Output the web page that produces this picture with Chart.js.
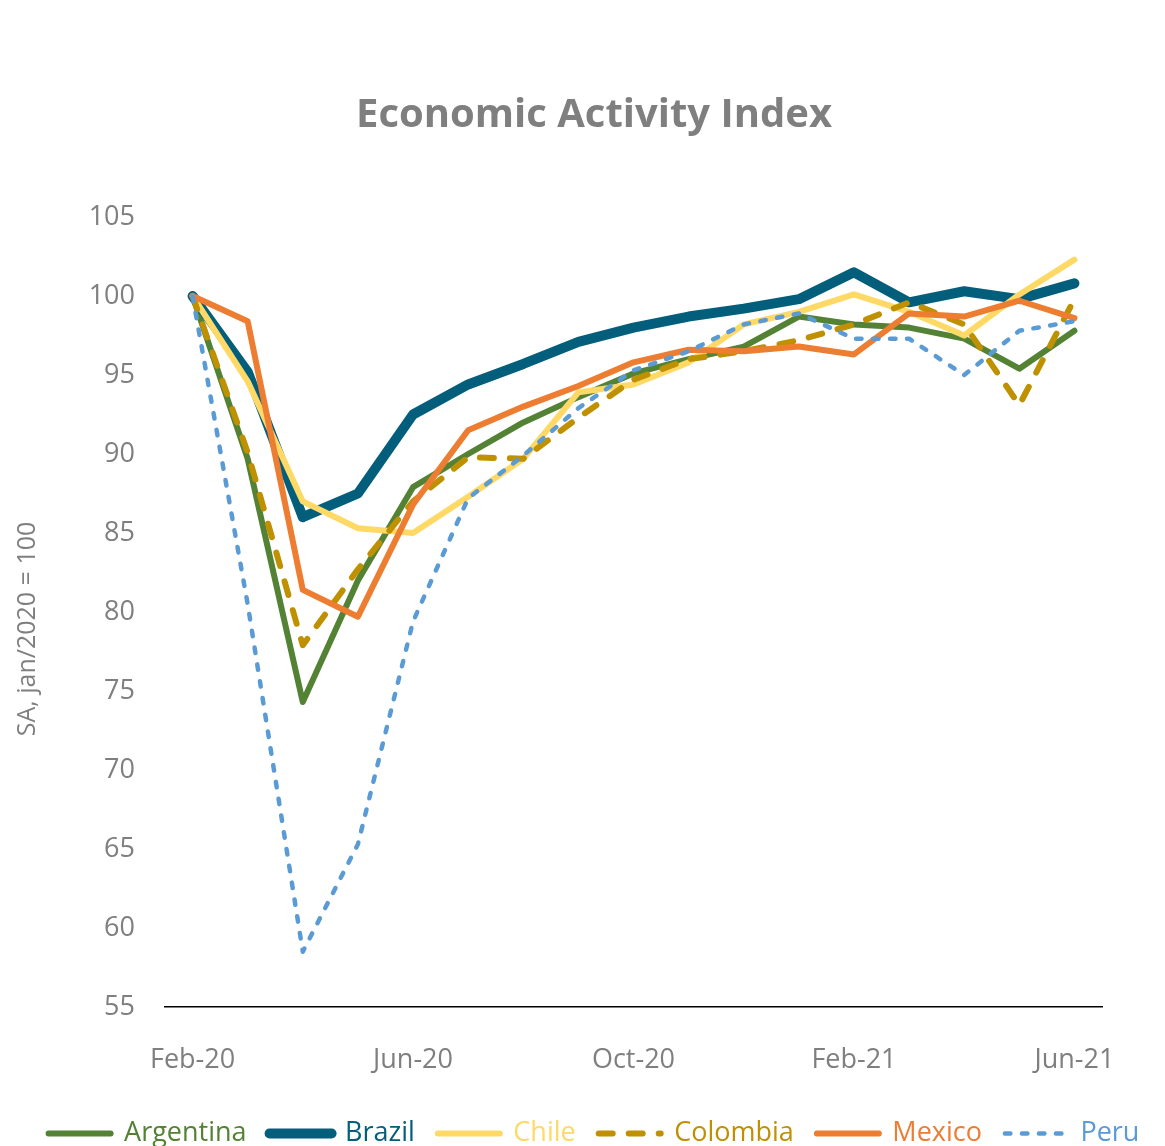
<!DOCTYPE html>
<html>
<head>
<meta charset="utf-8">
<script src="https://cdn.jsdelivr.net/npm/chart.js@4.4.1/dist/chart.umd.min.js"></script>
<style>
  html, body { margin: 0; padding: 0; background: #ffffff; }
  #wrap { width: 1165px; height: 1146px; }
</style>
</head>
<body>
<div id="wrap"><canvas id="c" width="1165" height="1146"></canvas></div>
<script>
const months = ['Feb-20','Mar-20','Apr-20','May-20','Jun-20','Jul-20','Aug-20','Sep-20','Oct-20','Nov-20','Dec-20','Jan-21','Feb-21','Mar-21','Apr-21','May-21','Jun-21'];
const argentina = [100, 89.7, 74.3, 82.0, 87.9, 90.0, 92.0, 93.6, 95.1, 96.0, 96.8, 98.7, 98.2, 98.0, 97.3, 95.4, 97.8];
const brazil    = [100, 95.2, 86.0, 87.5, 92.5, 94.4, 95.7, 97.1, 98.0, 98.7, 99.2, 99.8, 101.5, 99.6, 100.3, 99.8, 100.8];
const chile     = [100, 94.6, 87.0, 85.3, 85.0, 87.3, 89.7, 93.9, 94.4, 95.8, 98.2, 99.0, 100.1, 99.0, 97.5, 100.1, 102.3];
const colombia  = [100, 90.1, 77.9, 82.7, 87.0, 89.8, 89.7, 92.3, 94.7, 96.0, 96.5, 97.2, 98.2, 99.6, 98.2, 93.1, 99.8];
const mexico    = [100, 98.4, 81.4, 79.7, 86.8, 91.5, 93.0, 94.3, 95.8, 96.6, 96.5, 96.8, 96.3, 98.9, 98.7, 99.7, 98.6];
const peru      = [100, 80.5, 58.5, 65.3, 79.4, 87.2, 89.9, 92.9, 95.3, 96.5, 98.2, 98.9, 97.3, 97.3, 95.0, 97.8, 98.4];
const yTicks = [55, 60, 65, 70, 75, 80, 85, 90, 95, 100, 105];
const chartTitle = 'Economic Activity Index';
const yTitle = 'SA, jan/2020 = 100';

const FONT = "'Open Sans', 'Noto Sans', 'DejaVu Sans', sans-serif";
const GRAY = '#7f7f7f';

function ds(label, data, color, width, dash, order) {
  return {
    label, data,
    borderColor: color, backgroundColor: color,
    borderWidth: width, borderDash: dash,
    borderCapStyle: 'round', borderJoinStyle: 'round',
    pointRadius: 0, pointHoverRadius: 0, tension: 0, fill: false,
    yAxisID: 'y',
    order
  };
}

const yTitlePlugin = {
  id: 'yTitlePlugin',
  afterDraw(chart) {
    const ctx = chart.ctx;
    ctx.save();
    ctx.translate(28, 629);
    ctx.rotate(-Math.PI / 2);
    ctx.font = "25px " + FONT;
    ctx.fillStyle = GRAY;
    ctx.textAlign = 'center';
    ctx.textBaseline = 'middle';
    ctx.fillText(yTitle, 0, 0);
    ctx.restore();
  }
};

new Chart(document.getElementById('c'), {
  type: 'line',
  data: {
    labels: months,
    datasets: [
      ds('Argentina', argentina, '#548235', 6, [], 6),
      ds('Brazil', brazil, '#035E7B', 10, [], 5),
      ds('Chile', chile, '#FFD966', 6, [], 4),
      ds('Colombia', colombia, '#BF9000', 6, [14, 16], 3),
      ds('Mexico', mexico, '#ED7D31', 6, [], 2),
      ds('Peru', peru, '#5B9BD5', 4.5, [5.5, 11.5], 1)
    ]
  },
  options: {
    responsive: false,
    animation: false,
    events: [],
    layout: { padding: { left: 23, right: 0, top: 0, bottom: -11 } },
    plugins: {
      title: {
        display: true,
        text: chartTitle,
        color: GRAY,
        font: { family: FONT, size: 40, weight: 'bold' },
        padding: { top: 92, bottom: 77 }
      },
      legend: {
        position: 'bottom',
        labels: {
          font: { family: FONT, size: 27 },
          usePointStyle: true,
          pointStyle: 'line',
          pointStyleWidth: 62,
          boxWidth: 62,
          padding: 23,
          sort: (a, b) => a.datasetIndex - b.datasetIndex,
          generateLabels(chart) {
            return chart.data.datasets.map((d, i) => ({
              text: d.label,
              fillStyle: d.borderColor,
              strokeStyle: d.borderColor,
              fontColor: d.borderColor,
              lineWidth: d.borderWidth,
              lineDash: d.borderDash,
              lineCap: 'round',
              pointStyle: 'line',
              hidden: false,
              datasetIndex: i
            }));
          }
        }
      },
      tooltip: { enabled: false }
    },
    scales: {
      x: {
        offset: true,
        grid: { display: false, drawTicks: false },
        border: { display: true, color: '#000000', width: 1.5 },
        ticks: {
          autoSkip: false, maxRotation: 0, minRotation: 0,
          padding: 37,
          color: GRAY,
          font: { family: FONT, size: 27 },
          callback: function(v, i) { return i % 4 === 0 ? months[i] : ''; }
        },
        afterFit(scale) { scale.height = 90; }
      },
      y: {
        min: 55, max: 105,
        grid: { display: false, drawTicks: false },
        border: { display: false },
        afterBuildTicks(scale) { scale.ticks = yTicks.map(v => ({ value: v })); },
        ticks: {
          padding: 30,
          color: GRAY,
          font: { family: FONT, size: 27 }
        },
        afterFit(scale) { scale.width = 142; }
      },
      yRight: {
        position: 'right',
        display: true,
        min: 55, max: 105,
        grid: { display: false, drawTicks: false },
        border: { display: false },
        ticks: { display: false },
        afterFit(scale) { scale.width = 63; }
      }
    }
  },
  plugins: [yTitlePlugin]
});
</script>
</body>
</html>
